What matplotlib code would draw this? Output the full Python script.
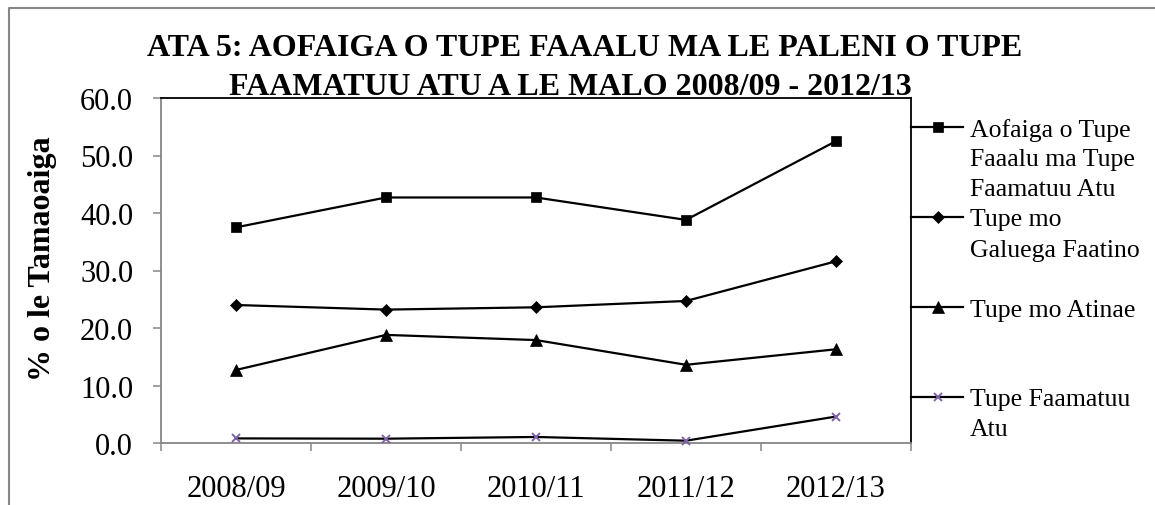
import matplotlib
matplotlib.use("Agg")
import matplotlib.pyplot as plt
from matplotlib.lines import Line2D
from matplotlib.ticker import MultipleLocator, FixedLocator, FormatStrFormatter

# data
years = ["2008/09", "2009/10", "2010/11", "2011/12", "2012/13"]
total = [37.5, 42.7, 42.7, 38.8, 52.5]
galuega = [24.0, 23.2, 23.6, 24.7, 31.6]
atinae = [12.7, 18.8, 17.9, 13.6, 16.3]
faamatuu = [0.8, 0.75, 1.05, 0.4, 4.6]
labels = ["Aofaiga o Tupe\nFaaalu ma Tupe\nFaamatuu Atu",
          "Tupe mo\nGaluega Faatino",
          "Tupe mo Atinae",
          "Tupe Faamatuu\nAtu"]
title1 = "ATA 5: AOFAIGA O TUPE FAAALU MA LE PALENI O TUPE"
title2 = "FAAMATUU ATU A LE MALO 2008/09 - 2012/13"
ylabel = "% o le Tamaoaiga"

plt.rcParams['font.family'] = ['Liberation Serif', 'DejaVu Serif']

W, H = 1155, 506
fx = lambda x: x / W
fy = lambda y: 1 - y / H

grey = '#868686'
purple = '#7f63a8'

fig = plt.figure(figsize=(W / 100, H / 100), dpi=100)
ax = fig.add_axes([fx(161), fy(444), fx(911) - fx(161), fy(99) - fy(444)])

series = [total, galuega, atinae, faamatuu]
markers = ['s', 'D', '^', 'x']
msizes = [6.5, 6.5, 8, 5.5]
mcolors = ['black', 'black', 'black', purple]

x = list(range(len(years)))
for vals, m, ms, mc in zip(series, markers, msizes, mcolors):
    ax.plot(x, vals, color='black', lw=1.6, marker=m, markersize=ms,
            markerfacecolor=mc, markeredgecolor=mc, markeredgewidth=1.4 if m == 'x' else 0.5,
            clip_on=False, zorder=3)

ax.set_xlim(-0.5, len(years) - 0.5)
ax.set_ylim(0, 60)
ax.yaxis.set_major_locator(MultipleLocator(10))
ax.yaxis.set_major_formatter(FormatStrFormatter('%.1f'))
ax.xaxis.set_major_locator(FixedLocator([i - 0.5 for i in range(len(years) + 1)]))
ax.xaxis.set_minor_locator(FixedLocator(x))
ax.set_xticklabels([])
ax.set_xticklabels(years, minor=True)

ax.tick_params(axis='both', which='major', direction='out', length=6, width=1.1, color=grey)
ax.tick_params(axis='y', labelsize=22, pad=14)
ax.tick_params(axis='x', which='minor', length=0, labelsize=22, pad=22)

for s in ['left', 'bottom']:
    ax.spines[s].set_color(grey)
    ax.spines[s].set_linewidth(1.3)
for s in ['top', 'right']:
    ax.spines[s].set_color('black')
    ax.spines[s].set_linewidth(1.3)

# titles and y label
fig.text(fx(585), fy(56), title1, ha='center', va='baseline', fontsize=23, fontweight='bold')
fig.text(fx(570), fy(95), title2, ha='center', va='baseline', fontsize=23, fontweight='bold')
fig.text(fx(43), fy(259), ylabel, ha='center', va='center', rotation=90, fontsize=23, fontweight='bold')

# legend drawn beside the right spine
leg_y = [128, 218, 308, 398]
for yy, lab, m, ms, mc in zip(leg_y, labels, markers, msizes, mcolors):
    fig.add_artist(Line2D([fx(911), fx(963)], [fy(yy), fy(yy)], color='black', lw=1.6,
                          transform=fig.transFigure))
    fig.add_artist(Line2D([fx(938)], [fy(yy)], marker=m, markersize=ms, markerfacecolor=mc,
                          markeredgecolor=mc, markeredgewidth=1.4 if m == 'x' else 0.5,
                          linestyle='none', transform=fig.transFigure))
    for k, line in enumerate(lab.split('\n')):
        fig.text(fx(970), fy(yy + 30 * k), line, ha='left', va='center_baseline', fontsize=18.5)

# outer border
fig.add_artist(Line2D([fx(9), fx(9), 1], [0, fy(9), fy(9)], color=grey, lw=1.5,
                      transform=fig.transFigure))

fig.savefig('out.png', dpi=100)
